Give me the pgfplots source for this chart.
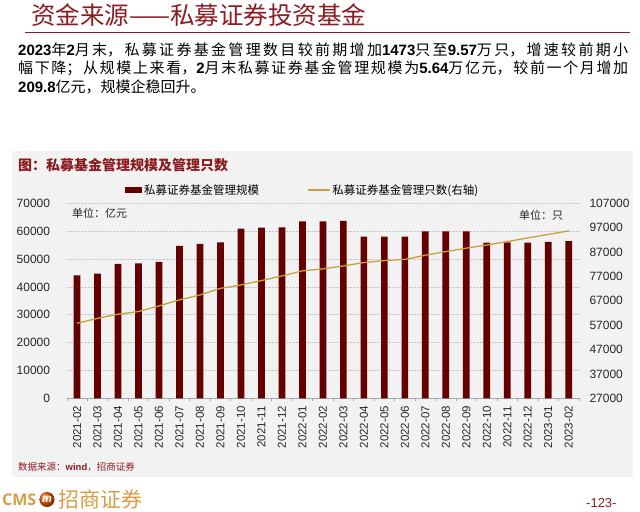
\documentclass[border=0pt]{standalone}
\usepackage{fontspec}
\usepackage{pgfplots}
\pgfplotsset{compat=1.18}
\setmainfont{Liberation Sans}
\newfontfamily\cjk{Noto Sans CJK SC}
\newfontfamily\arial{Liberation Sans}
\newfontfamily\opensans{Open Sans}
\definecolor{titlered}{RGB}{140,28,32}
\definecolor{barred}{RGB}{102,0,0}
\definecolor{linegold}{RGB}{201,160,60}
\definecolor{panel}{RGB}{242,242,242}
\definecolor{cmsgold}{RGB}{214,158,70}
\XeTeXlinebreaklocale "zh"
\XeTeXlinebreakskip=0pt plus 3pt
\newcommand\dg[1]{{\arial\bfseries #1}}
\begin{document}
\begin{tikzpicture}
\useasboundingbox (0,0) rectangle (640bp,-512bp);
\fill[white] (0,0) rectangle (640bp,-512bp);
% title
\node[anchor=base west, inner sep=0, text=titlered] at (31bp,-24bp) {\cjk\fontsize{24.5bp}{26bp}\selectfont 资金来源——私募证券投资基金};
\draw[titlered, line width=1.5bp] (25bp,-32.5bp) -- (630bp,-32.5bp);
% paragraph
\node[anchor=base west, inner sep=0] at (18bp,-55bp) {\parbox[t]{610bp}{\cjk\fontsize{15bp}{18.5bp}\selectfont\parindent=0pt\tolerance=9999
\dg{2023}年\dg{2}月末，私募证券基金管理数目较前期增加\dg{1473}只至\dg{9.57}万只，增速较前期小\linebreak
幅下降；从规模上来看，\dg{2}月末私募证券基金管理规模为\dg{5.64}万亿元，较前一个月增加\linebreak
\dg{209.8}亿元，规模企稳回升。}};
% panel
\fill[panel] (12bp,-151bp) rectangle (633bp,-477bp);
\node[anchor=base west, inner sep=0, text=titlered] at (18bp,-170bp) {\cjk\bfseries\fontsize{14bp}{16bp}\selectfont 图：私募基金管理规模及管理只数};

\begin{axis}[
  at={(66.8bp,-398.3bp)}, anchor=south west,
  width=512.2bp, height=195bp, scale only axis,
  xmin=-0.5, xmax=24.5, ymin=0, ymax=70000,
  ytick={0,10000,...,70000},
  xtick={0,...,24},
  xticklabels={2021-02,2021-03,2021-04,2021-05,2021-06,2021-07,2021-08,2021-09,2021-10,2021-11,2021-12,2022-01,2022-02,2022-03,2022-04,2022-05,2022-06,2022-07,2022-08,2022-09,2022-10,2022-11,2022-12,2023-01,2023-02},
  minor xtick={-0.5,0.5,...,24.5},
  axis x line*=bottom, axis y line*=left,
  x axis line style={-, draw=black!35, line width=0.6bp},
  y axis line style={draw=none},
  major x tick style={draw=none},
  minor x tick style={draw=black!35, line width=0.6bp},
  minor tick length=3bp,
  tick align=outside,
  ytick style={draw=none},
  ymajorgrids, major grid style={densely dotted, black!22, line width=0.6bp},
  xticklabel style={rotate=90, anchor=east, font=\fontsize{11.5bp}{12bp}\selectfont, text=black!85},
  yticklabel style={font=\fontsize{12bp}{13bp}\selectfont, text=black!85, xshift=-9bp},
  scaled y ticks=false,
  yticklabel={\pgfmathprintnumber[fixed,precision=0,1000 sep={}]{\tick}},
  /pgf/number format/assume math mode=true,
  legend columns=2,
  legend cell align=left,
  legend style={at={(0.1136,1.068)}, anchor=west, draw=none, fill=none, inner sep=0pt,
    font=\cjk\fontsize{11.5bp}{12bp}\selectfont,
    /tikz/every even column/.append style={column sep=46bp}},
]
\addplot[ybar, bar width=6.7bp, fill=barred, draw=none,
  legend image code/.code={\fill[barred] (0bp,-3bp) rectangle (17bp,3bp);}]
coordinates {
(0,44150) (1,44750) (2,48220) (3,48460) (4,48940) (5,54680) (6,55400) (7,56000)
(8,60900) (9,61270) (10,61390) (11,63540) (12,63540) (13,63660) (14,58040) (15,58040)
(16,58040) (17,59950) (18,59950) (19,59950) (20,55880) (21,56000) (22,55880) (23,56190) (24,56400)};
\addlegendentry{私募证券基金管理规模}
\addlegendimage{legend image code/.code={\draw[linegold, line width=1.3bp] (0bp,0bp) -- (22bp,0bp);}}
\addlegendentry{私募证券基金管理只数(右轴)}
\end{axis}

\begin{axis}[
  at={(66.8bp,-398.3bp)}, anchor=south west,
  width=512.2bp, height=195bp, scale only axis,
  xmin=-0.5, xmax=24.5, ymin=27000, ymax=107000,
  ytick={27000,37000,...,107000},
  axis x line=none, axis y line*=right,
  y axis line style={draw=none},
  ytick style={draw=none},
  yticklabel style={font=\fontsize{12bp}{13bp}\selectfont, text=black!85, xshift=7bp},
  scaled y ticks=false,
  yticklabel={\pgfmathprintnumber[fixed,precision=0,1000 sep={}]{\tick}},
  /pgf/number format/assume math mode=true,
]
\addplot[linegold, line width=1.3bp, mark=none] coordinates {
(0,57800) (1,59800) (2,61500) (3,62600) (4,64900) (5,67400) (6,69400) (7,72100)
(8,73500) (9,75300) (10,77200) (11,79300) (12,80100) (13,81300) (14,82700) (15,83500)
(16,84000) (17,85700) (18,87200) (19,88600) (20,89900) (21,91300) (22,92800) (23,94230) (24,95700)};
\end{axis}

% unit labels
\node[anchor=west, inner sep=0, text=black!85] at (72bp,-213bp) {\cjk\fontsize{11bp}{12bp}\selectfont 单位：亿元};
\node[anchor=west, inner sep=0, text=black!85] at (519bp,-215bp) {\cjk\fontsize{11bp}{12bp}\selectfont 单位：只};
% source
\node[anchor=west, inner sep=0, text=titlered] at (18bp,-467bp) {\cjk\fontsize{9.5bp}{11bp}\selectfont 数据来源：\dg{wind}，招商证券};
% footer
\node[anchor=west, inner sep=0, text=cmsgold] at (2bp,-500bp) {\opensans\bfseries\fontsize{16bp}{18bp}\selectfont CMS};
\shade[ball color=orange!80!red] (47bp,-499.5bp) circle (7.5bp);
\node[text=white, inner sep=0] at (47bp,-500bp) {\arial\bfseries\itshape\fontsize{11bp}{11bp}\selectfont m};
\node[anchor=west, inner sep=0, text=cmsgold] at (58bp,-499.5bp) {\cjk\fontsize{21bp}{22bp}\selectfont 招商证券};
\node[anchor=west, inner sep=0, text=titlered] at (586bp,-503bp) {\arial\fontsize{13bp}{14bp}\selectfont -123-};
\end{tikzpicture}
\end{document}
